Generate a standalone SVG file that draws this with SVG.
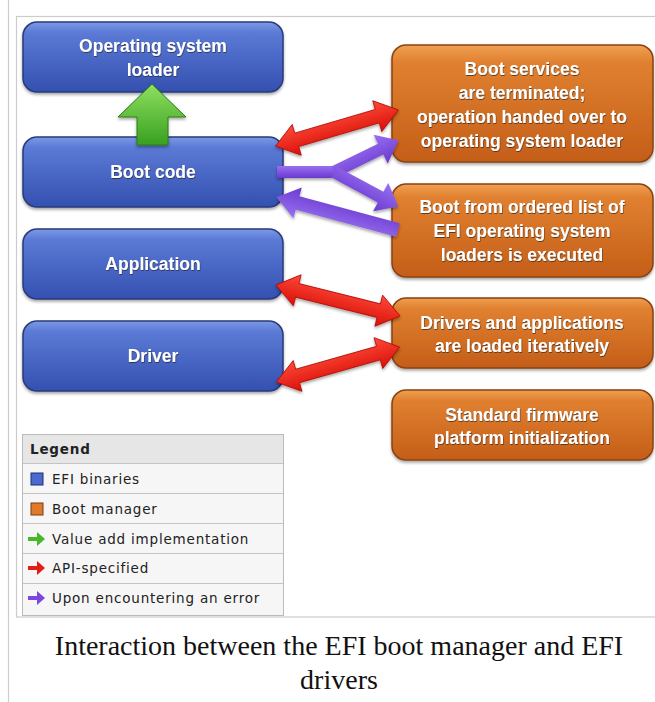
<svg xmlns="http://www.w3.org/2000/svg" width="655" height="702" viewBox="0 0 655 702">
<defs>
<linearGradient id="gBlue" x1="0" y1="0" x2="0" y2="1">
<stop offset="0" stop-color="#7b9ae6"/><stop offset="0.15" stop-color="#5b7ad6"/><stop offset="1" stop-color="#3450b0"/>
</linearGradient>
<linearGradient id="gOrange" x1="0" y1="0" x2="0" y2="1">
<stop offset="0" stop-color="#f0a050"/><stop offset="0.15" stop-color="#e08030"/><stop offset="1" stop-color="#c45e18"/>
</linearGradient>
<linearGradient id="gGreen" x1="0" y1="0" x2="0" y2="1">
<stop offset="0" stop-color="#8ee060"/><stop offset="1" stop-color="#38a020"/>
</linearGradient>
<linearGradient id="gRed" x1="0" y1="0" x2="0" y2="1">
<stop offset="0" stop-color="#ff4a3a"/><stop offset="1" stop-color="#d81008"/>
</linearGradient>
<linearGradient id="gPurple" x1="0" y1="0" x2="0" y2="1">
<stop offset="0" stop-color="#9a70f0"/><stop offset="1" stop-color="#6a3ad0"/>
</linearGradient>
<filter id="sh" x="-10%" y="-10%" width="120%" height="130%">
<feDropShadow dx="0" dy="2" stdDeviation="1.5" flood-color="#000" flood-opacity="0.35"/>
</filter>
<filter id="tsh" x="-5%" y="-20%" width="110%" height="140%">
<feDropShadow dx="0.5" dy="1" stdDeviation="0.6" flood-color="#222" flood-opacity="0.7"/>
</filter>
<polygon id="redDbl" points="-64,0 -42,-16 -42,-7 42,-7 42,-16 64,0 42,16 42,7 -42,7 -42,16"/>
</defs>
<style>
.blue{fill:url(#gBlue);stroke:#2a3a78;stroke-width:1.5}
.orange{fill:url(#gOrange);stroke:#8a4212;stroke-width:1.5}
.lbl{font-family:"Liberation Sans",Arial,sans-serif;font-weight:bold;font-size:17.5px;fill:#fff;text-anchor:middle}
.leg{font-family:"DejaVu Sans",Verdana,sans-serif;font-size:13.5px;letter-spacing:0.8px;fill:#222}
.cap{font-family:"Liberation Serif","Times New Roman",serif;font-size:28px;fill:#111;text-anchor:middle}
.red{fill:url(#gRed);stroke:#b00a05;stroke-width:0.8}
.purple{fill:url(#gPurple)}
</style>
<rect width="655" height="702" fill="#fff"/>
<line x1="8.5" y1="0" x2="8.5" y2="702" stroke="#cccccc" stroke-width="1.2"/>
<rect x="16.5" y="16.5" width="645" height="600.5" fill="none" stroke="#cccccc" stroke-width="1.2"/>

<g id="node-os-loader" filter="url(#sh)">
<rect class="blue" x="23" y="22" width="260" height="70" rx="14"/>
<g filter="url(#tsh)"><text class="lbl" x="153" y="52">Operating system</text><text class="lbl" x="153" y="76">loader</text></g>
</g>
<g id="node-boot-code" filter="url(#sh)">
<rect class="blue" x="23" y="137" width="260" height="70" rx="14"/>
<g filter="url(#tsh)"><text class="lbl" x="153" y="178">Boot code</text></g>
</g>
<g id="node-application" filter="url(#sh)">
<rect class="blue" x="23" y="229" width="260" height="70" rx="14"/>
<g filter="url(#tsh)"><text class="lbl" x="153" y="270">Application</text></g>
</g>
<g id="node-driver" filter="url(#sh)">
<rect class="blue" x="23" y="321" width="260" height="70" rx="14"/>
<g filter="url(#tsh)"><text class="lbl" x="153" y="362">Driver</text></g>
</g>

<g id="node-boot-services" filter="url(#sh)">
<rect class="orange" x="392" y="45" width="261" height="117" rx="14"/>
<g filter="url(#tsh)">
<text class="lbl" x="522" y="75">Boot services</text>
<text class="lbl" x="522" y="99">are terminated;</text>
<text class="lbl" x="522" y="123">operation handed over to</text>
<text class="lbl" x="522" y="147">operating system loader</text>
</g>
</g>
<g id="node-boot-ordered" filter="url(#sh)">
<rect class="orange" x="392" y="184" width="261" height="93" rx="14"/>
<g filter="url(#tsh)">
<text class="lbl" x="522" y="213">Boot from ordered list of</text>
<text class="lbl" x="522" y="237">EFI operating system</text>
<text class="lbl" x="522" y="261">loaders is executed</text>
</g>
</g>
<g id="node-drivers-loaded" filter="url(#sh)">
<rect class="orange" x="392" y="298" width="261" height="70" rx="14"/>
<g filter="url(#tsh)">
<text class="lbl" x="522" y="329">Drivers and applications</text>
<text class="lbl" x="522" y="352">are loaded iteratively</text>
</g>
</g>
<g id="node-firmware-init" filter="url(#sh)">
<rect class="orange" x="392" y="390" width="261" height="70" rx="14"/>
<g filter="url(#tsh)">
<text class="lbl" x="522" y="421">Standard firmware</text>
<text class="lbl" x="522" y="444">platform initialization</text>
</g>
</g>

<g id="connectors" filter="url(#sh)">
<polygon points="152,84 186,117 168,117 168,145 137,145 137,117 118,117" fill="url(#gGreen)" stroke="#2c7a18" stroke-width="1"/>
<use href="#redDbl" class="red" transform="translate(337,128) rotate(-16.4)"/>
<use href="#redDbl" class="red" transform="translate(338,300.5) rotate(14)"/>
<use href="#redDbl" class="red" transform="translate(338,364.5) rotate(-15.8)"/>
<g class="purple">
<rect x="277" y="166" width="62" height="12"/>
<polygon transform="translate(334,172) rotate(-26.2)" points="0,-6 52,-6 52,-16 72,0 52,16 52,6 0,6"/>
<polygon transform="translate(334,172) rotate(28.3)" points="0,-6 53,-6 53,-16 73,0 53,16 53,6 0,6"/>
<polygon transform="translate(398,230) rotate(195.1)" points="0,-7 104,-7 104,-16 126,0 104,16 104,7 0,7"/>
</g>
</g>

<g id="legend">
<rect x="22.5" y="434.5" width="261" height="181" fill="#f6f6f6" stroke="#bbbbbb"/>
<rect x="23" y="435" width="260" height="29" fill="#e6e6e6"/>
<g stroke="#c4c4c4" stroke-width="1">
<line x1="23" y1="463.5" x2="283" y2="463.5"/>
<line x1="23" y1="493.5" x2="283" y2="493.5"/>
<line x1="23" y1="523.5" x2="283" y2="523.5"/>
<line x1="23" y1="553.5" x2="283" y2="553.5"/>
<line x1="23" y1="583.5" x2="283" y2="583.5"/>
</g>
<text class="leg" x="30" y="454" font-weight="bold">Legend</text>
<rect x="31" y="473" width="12" height="12" fill="#4a6ad0" stroke="#1e2f70"/>
<text class="leg" x="52" y="484">EFI binaries</text>
<rect x="31" y="503" width="12" height="12" fill="#e07a2a" stroke="#7a3a10"/>
<text class="leg" x="52" y="514">Boot manager</text>
<polygon points="28,537 37,537 37,532 45,539 37,546 37,541 28,541" fill="#48b828"/>
<text class="leg" x="52" y="544">Value add implementation</text>
<polygon points="28,566 37,566 37,561 45,568 37,575 37,570 28,570" fill="#e02018"/>
<text class="leg" x="52" y="573">API-specified</text>
<polygon points="28,596 37,596 37,591 45,598 37,605 37,600 28,600" fill="#7a48e0"/>
<text class="leg" x="52" y="603">Upon encountering an error</text>
</g>

<text class="cap" x="339" y="655">Interaction between the EFI boot manager and EFI</text>
<text class="cap" x="339" y="689">drivers</text>
</svg>
